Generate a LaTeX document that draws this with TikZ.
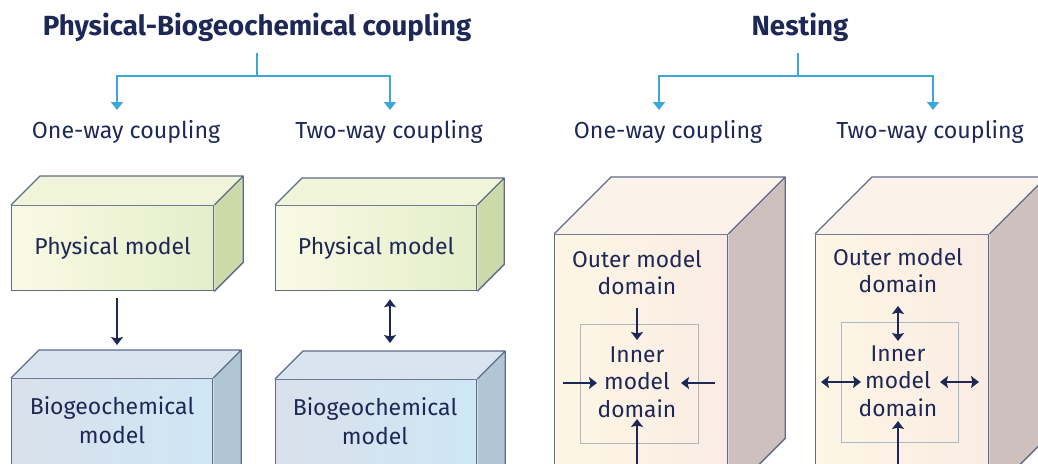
\documentclass[tikz,border=0pt]{standalone}
\usepackage{fontspec}
\setmainfont{Fira Sans}
\usetikzlibrary{arrows.meta}

\definecolor{ink}{RGB}{30,40,86}
\definecolor{treeblue}{RGB}{62,166,216}
\definecolor{edge}{RGB}{96,106,138}
\definecolor{innerline}{RGB}{170,185,195}
% physical model faces
\definecolor{physL}{RGB}{250,250,228}
\definecolor{physR}{RGB}{228,238,202}
\definecolor{physTop}{RGB}{240,244,216}
\definecolor{physSide}{RGB}{204,218,170}
% biogeochemical model faces
\definecolor{bioL}{RGB}{218,225,236}
\definecolor{bioR}{RGB}{206,230,245}
\definecolor{bioTop}{RGB}{216,229,240}
\definecolor{bioSide}{RGB}{176,198,212}
% nesting domain faces
\definecolor{nestL}{RGB}{253,246,228}
\definecolor{nestR}{RGB}{250,236,228}
\definecolor{nestTop}{RGB}{251,243,233}
\definecolor{nestSide}{RGB}{206,192,188}

\newcommand\cuboidfaces[4]{% node name, depth, top colour, side colour
  \fill[#3] (#1.north west) -- ++(#2,-#2) -- ([shift={(#2,-#2)}]#1.north east) -- (#1.north east) -- cycle;
  \fill[#4] (#1.north east) -- ++(#2,-#2) -- ([shift={(#2,-#2)}]#1.south east) -- (#1.south east) -- cycle;
  \draw[edge, line width=1.3pt, line join=round]
    (#1.north west) -- ++(#2,-#2) -- ([shift={(#2,-#2)}]#1.north east) -- ([shift={(#2,-#2)}]#1.south east) -- (#1.south east)
    (#1.north east) -- ++(#2,-#2);
}

\tikzset{
  title/.style={text=ink, font=\bfseries\fontsize{27.7}{32}\selectfont, inner sep=0pt},
  subtitle/.style={text=ink, font=\fontsize{23.2}{28}\selectfont, inner sep=0pt},
  boxtext/.style={text=ink, font=\fontsize{23}{29}\selectfont, align=center, inner sep=0pt},
  front/.style={draw=edge, line width=1.3pt, anchor=north west, inner sep=0pt, text=ink,
    font=\fontsize{23}{29}\selectfont},
  physface/.style={front, left color=physL, right color=physR},
  bioface/.style={front, left color=bioL, right color=bioR},
  nestface/.style={front, left color=nestL, right color=nestR},
  innerbox/.style={draw=innerline, line width=0.8pt, anchor=north west, inner sep=0pt},
  treeline/.style={draw=treeblue, line width=2.4pt},
  treearrow/.style={treeline, -{Triangle[length=8pt,width=12pt]}},
  tip/.tip={Stealth[length=8pt,width=12pt,inset=1.5pt]},
  flow/.style={draw=ink, line width=2.6pt, -tip},
  flowboth/.style={draw=ink, line width=2.6pt, tip-tip},
}

\begin{document}
\begin{tikzpicture}[x=1pt, y=-1pt]
\useasboundingbox (0,0) rectangle (1038,463);
\begin{scope}
\clip (0,0) rectangle (1038,463);

% ---------------- headings and branching ----------------
\node[title] (pbc) at (257,27) {Physical-Biogeochemical coupling};
\node[title] (nest) at (800,27) {Nesting};

\node[subtitle] (pb1) at (126,132) {One-way coupling};
\node[subtitle] (pb2) at (389,132) {Two-way coupling};
\node[subtitle] (ns1) at (668,132) {One-way coupling};
\node[subtitle] (ns2) at (930,132) {Two-way coupling};

\coordinate (pbj) at (257,76);
\coordinate (pba1) at (117,110);
\coordinate (pba2) at (390,110);
\coordinate (nsj) at (798,76);
\coordinate (nsa1) at (659,110);
\coordinate (nsa2) at (933,110);

\draw[treeline] (pbj |- 0,53) -- (pbj);
\draw[treearrow] (pbj) -| (pba1);
\draw[treearrow] (pbj) -| (pba2);
\draw[treeline] (nsj |- 0,53) -- (nsj);
\draw[treearrow] (nsj) -| (nsa1);
\draw[treearrow] (nsj) -| (nsa2);

% ---------------- physical / biogeochemical cuboids ----------------
\node[physface, minimum width=202pt, minimum height=85pt] (phys1) at (11,205) {Physical model};
\cuboidfaces{phys1}{29}{physTop}{physSide}
\node[bioface, minimum width=201pt, minimum height=120pt] (bio1) at (11,378) {};
\cuboidfaces{bio1}{28}{bioTop}{bioSide}
\node[boxtext] (bio1t) at (112,420) {Biogeochemical\\model};

\node[physface, minimum width=201pt, minimum height=85pt] (phys2) at (275,205) {Physical model};
\cuboidfaces{phys2}{27}{physTop}{physSide}
\node[bioface, minimum width=201pt, minimum height=120pt] (bio2) at (275,379) {};
\cuboidfaces{bio2}{28}{bioTop}{bioSide}
\node[boxtext] (bio2t) at (375,421) {Biogeochemical\\model};

\draw[flow, shorten <=7pt, shorten >=33pt] (phys1.south -| pba1) -- (bio1.north -| pba1);
\draw[flowboth, shorten <=8pt, shorten >=36pt] (phys2.south -| pba2) -- (bio2.north -| pba2);

% ---------------- nesting cuboids ----------------
\node[nestface, minimum width=173pt, minimum height=260pt] (out1) at (554,234) {};
\cuboidfaces{out1}{57}{nestTop}{nestSide}
\node[boxtext, font=\fontsize{22.8}{27}\selectfont] (out1t) at (637,273) {Outer model\\domain};
\node[innerbox, minimum width=118pt, minimum height=119pt] (in1) at (580,324) {};
\node[boxtext, font=\fontsize{22.8}{27.5}\selectfont] (in1t) at (637,382) {Inner\\model\\domain};
\coordinate (l1) at (563,383);
\coordinate (r1) at (715,383);
\coordinate (b1) at (637,470);
\draw[flow] (637,308) -- (637,340);
\draw[flow] (l1) -- (597,383);
\draw[flow] (r1) -- (681,383);
\draw[flow] (b1) -- (637,419);

\node[nestface, minimum width=173pt, minimum height=260pt] (out2) at (815,234) {};
\cuboidfaces{out2}{57}{nestTop}{nestSide}
\node[boxtext, font=\fontsize{22.8}{27}\selectfont] (out2t) at (898,271) {Outer model\\domain};
\node[innerbox, minimum width=117pt, minimum height=120pt] (in2) at (841,322) {};
\node[boxtext, font=\fontsize{22.8}{27.5}\selectfont] (in2t) at (898,381) {Inner\\model\\domain};
\draw[flowboth] (898,306) -- (898,341);
\draw[flowboth] (821,382) -- (861,382);
\draw[flowboth] (940,382) -- (979,382);
\draw[flowboth] (898,421) -- (898,475);
\end{scope}
\end{tikzpicture}
\end{document}
